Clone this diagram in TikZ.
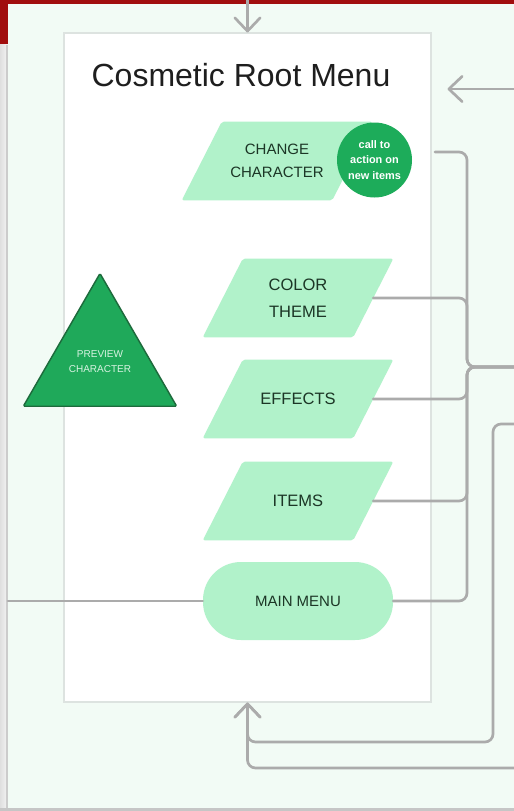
\documentclass[tikz,border=0pt]{standalone}
\usepackage{fontspec}
\setmainfont{Liberation Sans}
\usetikzlibrary{shapes.geometric,arrows.meta}
\pgfdeclarelayer{bg}
\pgfdeclarelayer{mid}
\pgfsetlayers{bg,mid,main}
\definecolor{bandred}{HTML}{A10E0E}
\definecolor{panelc}{HTML}{F2FBF5}
\definecolor{framec}{HTML}{DDE3E0}
\definecolor{mint}{HTML}{B1F2CA}
\definecolor{txtc}{HTML}{1C3626}
\definecolor{ctac}{HTML}{1DAC5A}
\definecolor{trifill}{HTML}{1FA95A}
\definecolor{tribord}{HTML}{1D6B3C}
\definecolor{tritext}{HTML}{D8F3E2}
\definecolor{connc}{HTML}{ABABAB}
\definecolor{titlec}{HTML}{1E1E1E}
\tikzset{
  conn/.style={draw=connc, line width=2pt, rounded corners=6pt, line cap=round},
  tipend/.style={-{Straight Barb[length=10pt,width=19pt,round]}},
  paratext/.style={minimum width=112.5pt, minimum height=58.5pt, inner sep=0pt,
    align=center, text=txtc, font=\fontsize{12.4}{20}\selectfont},
}
\newcommand\parabg[1]{%
  \begin{pgfonlayer}{mid}
    \fill[mint, rounded corners=1.5pt] ([xshift=-15pt]#1.south west) -- ([xshift=-15pt]#1.south east)
      -- ([xshift=15pt]#1.north east) -- ([xshift=15pt]#1.north west) -- cycle;
  \end{pgfonlayer}}
\begin{document}
\begin{tikzpicture}[x=0.75pt,y=-0.75pt]
\useasboundingbox (0,0) rectangle (514,811);
\begin{pgfonlayer}{bg}
  \fill[bandred] (0,0) rectangle (514,45);
  \fill[left color=gray!25, right color=gray!8] (0,44) rectangle (8,811);
  \fill[gray!45] (0,808) rectangle (514,811);
  \fill[gray!40] (6,45) rectangle (8,808);
  \fill[panelc] (8,4) rectangle (514,808);
  \node[draw=framec, line width=0.8pt, fill=white, minimum width=275.25pt, minimum height=501.75pt, inner sep=0pt] (frame) at (247.5,367.5) {};
\end{pgfonlayer}

\node[anchor=base, text=titlec, font=\fontsize{24}{28}\selectfont] (title) at (241,86) {Cosmetic Root Menu};

% menu items
\node[paratext, font=\fontsize{11.25}{17.5}\selectfont] (cc) at (277,161) {CHANGE\\CHARACTER};
\parabg{cc}
\node[paratext] (ct) at (298,298) {COLOR\\THEME};
\parabg{ct}
\node[paratext] (ef) at (298,399) {EFFECTS};
\parabg{ef}
\node[paratext] (it) at (298,501) {ITEMS};
\parabg{it}
\node[fill=mint, rounded corners=28.5pt, minimum width=142.5pt, minimum height=58.5pt, inner sep=0pt,
  text=txtc, font=\fontsize{11.25}{14}\selectfont] (mm) at (298,601) {MAIN MENU};

\node[circle, fill=ctac, minimum size=56.25pt, inner sep=0pt, text=white, align=center,
  font=\bfseries\fontsize{8.2}{11.5}\selectfont] (cta) at (374.5,160) {call to\\action on\\new items};

\node[regular polygon, regular polygon sides=3, minimum size=132.75pt, inner sep=0pt,
  fill=trifill, draw=tribord, line width=1.1pt, rounded corners=1pt, text=tritext,
  font=\fontsize{7.5}{12}\selectfont] (prev) at (100,362)
  {\raisebox{-5pt}{\begin{tabular}{@{}c@{}}PREVIEW\\[-0.5pt]CHARACTER\end{tabular}}};

% free ends
\coordinate (topin) at (247.5,0);
\coordinate (rightin) at (514,89);
\coordinate (ccout) at (435,152);
\coordinate (exitA) at (514,367);
\coordinate (in2) at (514,424);
\coordinate (in3) at (514,768);
\coordinate (leftout) at (8,601);

% connectors
\draw[conn, tipend] (topin) -- (frame.north);
\draw[conn, tipend, shorten >=12pt] (rightin) -- (rightin -| frame.east);
\draw[conn] (ccout) -- (467,152) -- (467,367) -- (exitA);
\draw[conn] (ct.east) -- (467,298) -- (467,367) -- (exitA);
\draw[conn] (ef.east) -- (467,399) -- (467,367) -- (exitA);
\draw[conn] (it.east) -- (467,501) -- (467,367) -- (exitA);
\draw[conn] (mm.east) -- (467,601) -- (467,367) -- (exitA);
\draw[conn, tipend] (in2) -- (493,424) -- (493,742) -- (247.5,742) -- (frame.south);
\draw[conn, tipend] (in3) -- (247.5,768) -- (frame.south);
\draw[conn] (leftout) -- (mm.west);
\end{tikzpicture}
\end{document}
